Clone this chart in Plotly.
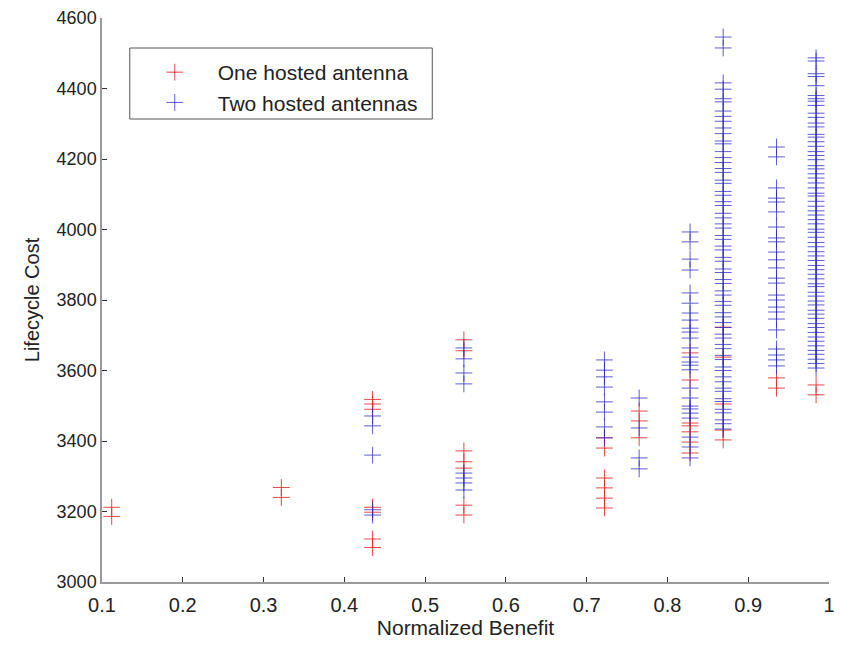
import plotly.graph_objects as go

# ---- data ----
red_x = ([0.112] * 2 + [0.322] * 2 + [0.435] * 7 + [0.548] * 7 + [0.722] * 6 +
         [0.765] * 3 + [0.828] * 7 + [0.869] * 5 + [0.935] * 2 + [0.984] * 2)
red_y = [3212, 3186,
         3268, 3240,
         3518, 3505, 3490, 3212, 3198, 3122, 3098,
         3687, 3656, 3372, 3341, 3323, 3218, 3190,
         3409, 3380, 3295, 3267, 3238, 3210,
         3485, 3457, 3409,
         3650, 3573, 3451, 3443, 3426, 3397, 3366,
         3723, 3638, 3505, 3431, 3403,
         3579, 3550,
         3559, 3531]

blue_c1 = [3471, 3443, 3360, 3205, 3190]
blue_c2 = [3664, 3633, 3593, 3562, 3309, 3295, 3281, 3261]
blue_c3 = [3630, 3601, 3582, 3553, 3511, 3482, 3440, 3409]
blue_c4 = [3522, 3437, 3352, 3321]
blue_c5 = [3993, 3965, 3916, 3885, 3820, 3791, 3763, 3743, 3720, 3709, 3692,
           3664, 3638, 3624, 3615, 3602, 3550, 3522, 3499, 3491, 3479, 3465,
           3411, 3383, 3352]
blue_c6 = [4546, 4515, 4416, 4398, 4371, 4362, 4336, 4321, 4307, 4288, 4272,
           4251, 4243, 4221, 4204, 4190, 4173, 4162, 4140, 4131, 4108, 4097,
           4079, 4068, 4046, 4033, 4016, 4004, 3983, 3972, 3953, 3942, 3921,
           3910, 3888, 3878, 3858, 3847, 3826, 3814, 3796, 3785, 3764, 3752,
           3736, 3722, 3703, 3692, 3674, 3662, 3643, 3631, 3610, 3600, 3582,
           3568, 3550, 3541, 3520, 3512, 3490, 3480, 3460, 3449, 3434]
blue_c7 = [4234, 4206, 4118, 4089, 4078, 4050, 4007, 3976, 3965, 3936, 3914,
           3891, 3862, 3848, 3814, 3800, 3780, 3766, 3746, 3715, 3661, 3644,
           3630, 3613]
blue_c8 = [4487, 4478, 4442, 4434, 4408, 4380, 4371, 4364, 4352, 4330, 4318,
           4302, 4291, 4270, 4262, 4249, 4236, 4221, 4210, 4198, 4181, 4172,
           4158, 4146, 4132, 4118, 4103, 4095, 4080, 4066, 4053, 4041, 4028,
           4016, 4001, 3992, 3978, 3963, 3951, 3937, 3925, 3912, 3898, 3886,
           3873, 3860, 3846, 3838, 3822, 3811, 3797, 3786, 3771, 3760, 3748,
           3733, 3722, 3708, 3695, 3683, 3670, 3657, 3646, 3632, 3620, 3607]
blue_x = ([0.435] * len(blue_c1) + [0.548] * len(blue_c2) + [0.722] * len(blue_c3) +
          [0.765] * len(blue_c4) + [0.828] * len(blue_c5) + [0.869] * len(blue_c6) +
          [0.935] * len(blue_c7) + [0.984] * len(blue_c8))
blue_y = blue_c1 + blue_c2 + blue_c3 + blue_c4 + blue_c5 + blue_c6 + blue_c7 + blue_c8

x_ticks = [0.1, 0.2, 0.3, 0.4, 0.5, 0.6, 0.7, 0.8, 0.9, 1.0]
x_tick_text = ["0.1", "0.2", "0.3", "0.4", "0.5", "0.6", "0.7", "0.8", "0.9", "1"]
y_ticks = [3000, 3200, 3400, 3600, 3800, 4000, 4200, 4400, 4600]

RED = "rgba(228,40,40,0.85)"
BLUE = "rgba(40,40,195,0.75)"

fig = go.Figure()
fig.add_trace(go.Scatter(
    x=red_x, y=red_y, mode="markers", name="One hosted antenna",
    marker=dict(symbol="cross-thin", size=12, color=RED,
                line=dict(width=1, color=RED))))
fig.add_trace(go.Scatter(
    x=blue_x, y=blue_y, mode="markers", name="Two hosted antennas",
    marker=dict(symbol="cross-thin", size=12, color=BLUE,
                line=dict(width=1, color=BLUE))))

font_family = "Liberation Sans, Arial, sans-serif"
# legend frame drawn as a shape so its size matches the reference
fig.add_shape(type="rect", xref="paper", yref="paper",
              x0=(130 - 102) / 733, x1=(435 - 102) / 733,
              y0=(582 - 119) / 564, y1=(582 - 48) / 564,
              line=dict(color="#555", width=1), fillcolor="white",
              layer="above")

fig.update_layout(
    width=841, height=646,
    margin=dict(l=102, r=6, t=18, b=64),
    paper_bgcolor="white", plot_bgcolor="white",
    font=dict(family=font_family, size=17, color="#222"),
    showlegend=True,
    legend=dict(x=(132 - 102) / 733, y=(582 - 52) / 564, xanchor="left", yanchor="top",
                bgcolor="rgba(0,0,0,0)", borderwidth=0,
                font=dict(size=21, color="#222"),
                itemwidth=76, tracegroupgap=4),
    xaxis=dict(range=[0.1, 1.0], tickvals=x_ticks, ticktext=x_tick_text,
               showgrid=False, zeroline=False, showline=True,
               linecolor="#999", linewidth=1.5, ticks="inside", ticklen=5,
               tickcolor="#333", mirror=False, ticklabelstandoff=4,
               title=dict(text="Normalized Benefit", font=dict(size=21), standoff=6),
               tickfont=dict(size=20)),
    yaxis=dict(range=[3000, 4600], tickvals=y_ticks,
               showgrid=False, zeroline=False, showline=True,
               linecolor="#999", linewidth=1.5, ticks="inside", ticklen=5,
               tickcolor="#333", mirror=False,
               title=dict(text="Lifecycle Cost", font=dict(size=20), standoff=12),
               tickfont=dict(size=18)),
)

fig.write_html("out.html")
